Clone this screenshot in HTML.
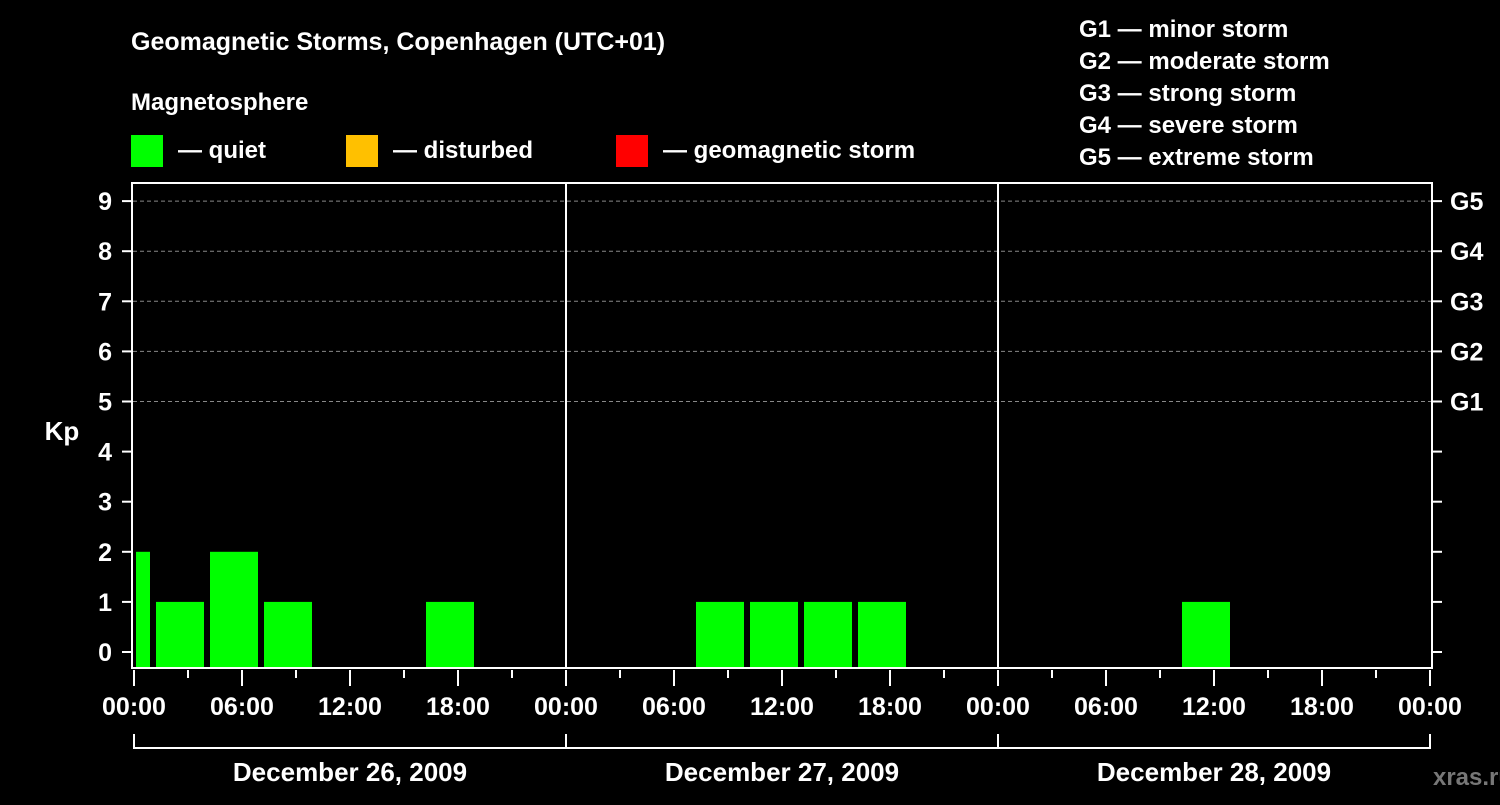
<!DOCTYPE html>
<html><head><meta charset="utf-8"><style>
body{margin:0;background:#000;}
svg text{font-family:"Liberation Sans",Arial,sans-serif;font-weight:bold;fill:#fff;}
</style></head><body>
<svg width="1500" height="800" xmlns="http://www.w3.org/2000/svg">
<rect width="1500" height="800" fill="#000"/>
<text x="131" y="50" font-size="25">Geomagnetic Storms, Copenhagen (UTC+01)</text>
<text x="131" y="110" font-size="24">Magnetosphere</text>
<g><rect x="131" y="135" width="32" height="32" fill="#00ff00"/><text x="178" y="158" font-size="24">— quiet</text></g>
<g><rect x="346" y="135" width="32" height="32" fill="#ffc000"/><text x="393" y="158" font-size="24">— disturbed</text></g>
<g><rect x="616" y="135" width="32" height="32" fill="#ff0000"/><text x="663" y="158" font-size="24">— geomagnetic storm</text></g>
<g font-size="24">
<text x="1079" y="37">G1 — minor storm</text>
<text x="1079" y="69">G2 — moderate storm</text>
<text x="1079" y="101">G3 — strong storm</text>
<text x="1079" y="133">G4 — severe storm</text>
<text x="1079" y="165">G5 — extreme storm</text>
</g>
<g id="grid"></g>
<g id="bars"></g>
<rect x="132" y="183" width="1300" height="485" fill="none" stroke="#fff" stroke-width="2"/>
<line x1="566" y1="183" x2="566" y2="668" stroke="#fff" stroke-width="2"/>
<line x1="998" y1="183" x2="998" y2="668" stroke="#fff" stroke-width="2"/>
<g id="axes"></g>
<text x="62" y="440" font-size="26" text-anchor="middle">Kp</text>
<text x="1473" y="785" font-size="24" fill="#777" style="fill:#777" text-anchor="middle">xras.ru</text>
</svg>
<script>
const kpValues=[2,1,2,1,0,0,1,0,0,0,0,1,1,1,1,0,0,0,0,0,1,0,0,0,0];
const binStartHour=-2;
const yTicks=[0,1,2,3,4,5,6,7,8,9];
const gLabels=["G1","G2","G3","G4","G5"];
const gLevels=[5,6,7,8,9];
const xTickLabels=["00:00","06:00","12:00","18:00","00:00","06:00","12:00","18:00","00:00","06:00","12:00","18:00","00:00"];
const dayLabels=["December 26, 2009","December 27, 2009","December 28, 2009"];
const NS="http://www.w3.org/2000/svg";
const X0=134,PXH=18,Y0=652,PXK=50.1,BASE=667,XMAX=1431;
const xs=h=>X0+h*PXH, ys=k=>Y0-k*PXK;
function mk(t,a,p){const e=document.createElementNS(NS,t);for(const k in a)e.setAttribute(k,a[k]);p.appendChild(e);return e;}
const grid=document.getElementById('grid'),bars=document.getElementById('bars'),axes=document.getElementById('axes');
gLevels.forEach((k,i)=>{
 const l=mk('line',{x1:133,x2:1431,y1:ys(k),y2:ys(k),stroke:'#888','stroke-dasharray':'4,3','stroke-width':1},grid);
 
 
 const t=mk('text',{x:1450,y:ys(k)+9,'font-size':25},axes);t.textContent=gLabels[i];
 
 
});
yTicks.forEach(k=>{
 mk('line',{x1:122,x2:132,y1:ys(k),y2:ys(k),stroke:'#fff','stroke-width':2},axes);
 mk('line',{x1:1432,x2:1442,y1:ys(k),y2:ys(k),stroke:'#fff','stroke-width':2},axes);
 const t=mk('text',{x:112,y:ys(k)+9,'font-size':25,'text-anchor':'end'},axes);t.textContent=k;
 
 
});
kpValues.forEach((v,i)=>{
 if(v<=0)return;
 const s=binStartHour+3*i;
 const x1=Math.max(xs(s)+4,136), x2=Math.min(xs(s+3)-2,XMAX-2);
 if(x2<=x1)return;
 const r=mk('rect',{x:x1,y:ys(v),width:x2-x1,height:BASE-ys(v),fill:v>=5?'#ff0000':(v>=4?'#ffc000':'#00ff00')},bars);
 
 
});
for(let h=0;h<=72;h+=3){
 const major=h%6===0;
 mk('line',{x1:xs(h),x2:xs(h),y1:670,y2:major?686:678,stroke:'#fff','stroke-width':2},axes);
}
xTickLabels.forEach((s,i)=>{
 const t=mk('text',{x:xs(i*6),y:715,'font-size':25,'text-anchor':'middle'},axes);t.textContent=s;
 
 
});
mk('path',{d:`M${xs(0)},734V748H${xs(72)}V734M${xs(24)},734V748M${xs(48)},734V748`,stroke:'#fff','stroke-width':2,fill:'none'},axes);
dayLabels.forEach((s,i)=>{
 const t=mk('text',{x:xs(i*24+12),y:781,'font-size':26,'text-anchor':'middle'},axes);t.textContent=s;
 
 
});
</script>
</body></html>
